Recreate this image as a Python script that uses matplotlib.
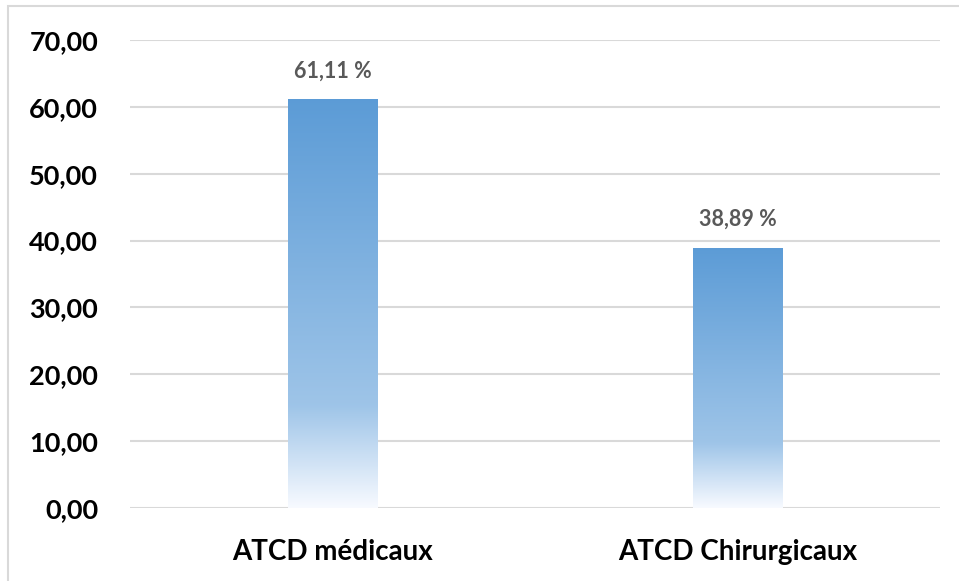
import matplotlib
matplotlib.use("Agg")
import matplotlib.pyplot as plt
import numpy as np
from matplotlib.colors import LinearSegmentedColormap
from matplotlib.patches import Rectangle

categories = ["ATCD médicaux", "ATCD Chirurgicaux"]
values = [61.11, 38.89]
yticks = [0, 10, 20, 30, 40, 50, 60, 70]
ytick_labels = ["0,00", "10,00", "20,00", "30,00", "40,00", "50,00", "60,00", "70,00"]
value_labels = ["61,11 %", "38,89 %"]

plt.rcParams['font.family'] = ['Lato', 'DejaVu Sans']

fig = plt.figure(figsize=(9.59, 5.81), dpi=100)
ax = fig.add_axes([130/959, 73/581, 810/959, 468/581])

# outer chart border (light gray)
fig.patches.append(Rectangle((8/959, -0.01), 2, (581-6)/581 + 0.01, transform=fig.transFigure,
                             fill=False, edgecolor="#D9D9D9", linewidth=1.5))

cmap = LinearSegmentedColormap.from_list(
    "grad", [(0.0, (0.97, 0.98, 1.0)), (0.25, (0.62, 0.77, 0.91)), (1.0, (0.36, 0.61, 0.84))])
grad = np.linspace(0, 1, 256).reshape(-1, 1)

x = np.arange(len(categories))
width = 0.222
bars = ax.bar(x, values, width=width, color="none", edgecolor="none", zorder=3)
for b in bars:
    x0 = b.get_x()
    h = b.get_height()
    im = ax.imshow(grad, cmap=cmap, origin="lower", aspect="auto",
                   extent=[x0, x0 + b.get_width(), 0, h], zorder=3, interpolation="bicubic")
    im.set_clip_path(b)

for xi, v, lab in zip(x, values, value_labels):
    ax.annotate(lab, (xi, v), xytext=(0, 13), textcoords="offset points", ha="center",
                va="bottom", fontsize=15.5, fontweight="bold", color="#595959")

ax.set_xlim(-0.5, 1.5)
ax.set_ylim(0, 70)
ax.set_yticks(yticks)
ax.set_yticklabels(ytick_labels, fontsize=19.5, fontweight="bold", color="black")
ax.set_xticks(x)
ax.set_xticklabels(categories, fontsize=20, fontweight="bold", color="black")
ax.tick_params(axis="both", length=0)
ax.tick_params(axis="y", pad=23)
ax.tick_params(axis="x", pad=22)
ax.grid(axis="y", color="#D9D9D9", linewidth=1.5, zorder=0)
ax.set_axisbelow(True)
for s in ax.spines.values():
    s.set_visible(False)

fig.savefig("out.png", dpi=100)
